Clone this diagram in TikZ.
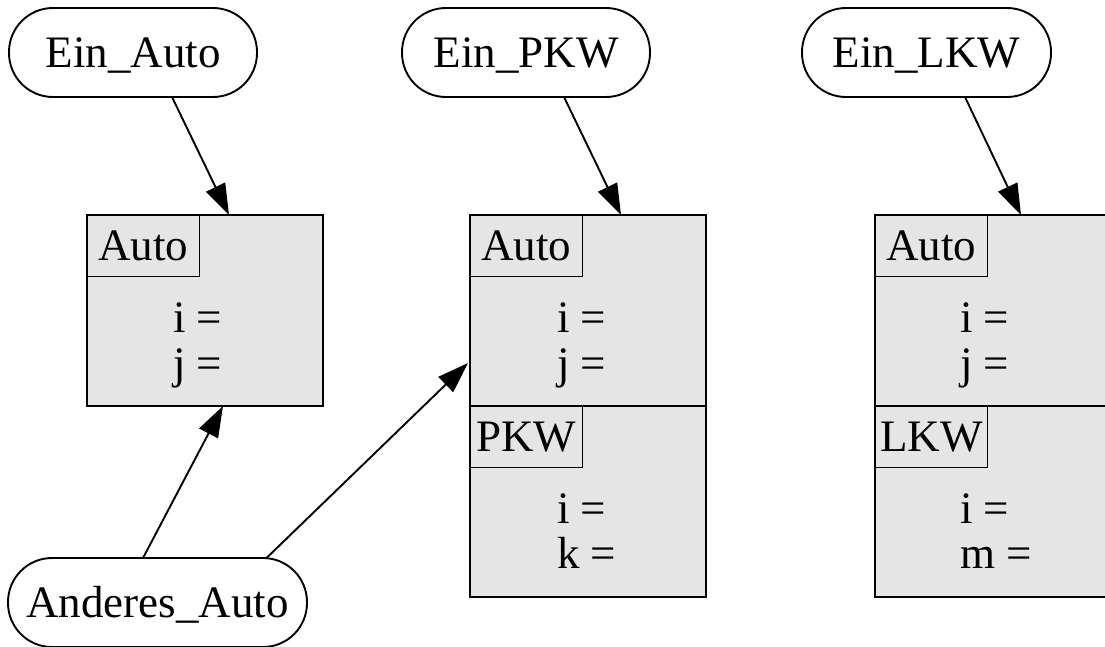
\documentclass[tikz,border=0pt]{standalone}
\usepackage{fontspec}
\setmainfont{Liberation Serif}
\usetikzlibrary{arrows.meta,calc}
\definecolor{fillgray}{HTML}{E5E5E5}
\begin{document}
\begin{tikzpicture}[x=1pt,y=-1pt,
  every node/.style={font=\fontsize{45}{46}\selectfont, inner sep=0pt, outer sep=0pt},
  term/.style={draw, line width=1.9pt, rounded corners=44pt, minimum height=89pt,
    text height=29.8pt, text depth=0pt},
  section/.style={draw, line width=1.9pt, fill=fillgray, minimum width=236pt, minimum height=191pt},
  header/.style={draw, line width=1.9pt, anchor=north west, minimum width=112.5pt,
    minimum height=61.5pt, text height=29.8pt, text depth=0pt},
  field/.style={anchor=base west},
  link/.style={line width=1.9pt, -{Triangle[length=31pt,width=21pt]}}]
\useasboundingbox (0,0) rectangle (1105,646);
\fill[white] (0,0) rectangle (1105,646);
\clip (0,0) rectangle (1105,646);

% instance names
\node[term, minimum width=248pt] (ea) at (133,52.5) {Ein\_Auto};
\node[term, minimum width=248pt] (ep) at (526,52.5) {Ein\_PKW};
\node[term, minimum width=249pt] (el) at (926.5,52.5) {Ein\_LKW};
\node[term, minimum width=299pt] (aa) at (157.5,602.5) {Anderes\_Auto};

% object: Auto
\node[section] (s1) at (205,310.5) {};
\node[header] (s1h) at (s1.north west) {Auto};
\node[field] (s1i) at ($(s1.north west)+(86,117)$) {i =};
\node[field] (s1j) at ($(s1.north west)+(86,163)$) {j =};

% object: PKW
\node[section] (p1) at (588,310.5) {};
\node[header] (p1h) at (p1.north west) {Auto};
\node[field] (p1i) at ($(p1.north west)+(87,117)$) {i =};
\node[field] (p1j) at ($(p1.north west)+(87,163)$) {j =};
\node[section] (p2) at (588,501.5) {};
\node[header] (p2h) at (p2.north west) {PKW};
\node[field] (p2i) at ($(p2.north west)+(87,117)$) {i =};
\node[field] (p2k) at ($(p2.north west)+(87,162)$) {k =};

% object: LKW
\node[section] (l1) at (993,310.5) {};
\node[header] (l1h) at (l1.north west) {Auto};
\node[field] (l1i) at ($(l1.north west)+(85,117)$) {i =};
\node[field] (l1j) at ($(l1.north west)+(85,163)$) {j =};
\node[section] (l2) at (993,501.5) {};
\node[header] (l2h) at (l2.north west) {LKW};
\node[field] (l2i) at ($(l2.north west)+(85,117)$) {i =};
\node[field] (l2m) at ($(l2.north west)+(85,162)$) {m =};

% references
\draw[link] ($(ea.south)+(39,0)$) -- ($(s1.north)+(24,0)$);
\draw[link] ($(ep.south)+(38,0)$) -- ($(p1.north)+(33,0)$);
\draw[link] ($(el.south)+(38.5,0)$) -- ($(l1.north)+(28,0)$);
\draw[link] ($(aa.north)+(-14.5,0)$) -- ($(s1.south)+(18,0)$);
\draw[link] ($(aa.north)+(108.5,0.5)$) -- ($(p1.west)+(-2,52.5)$);
\end{tikzpicture}
\end{document}
